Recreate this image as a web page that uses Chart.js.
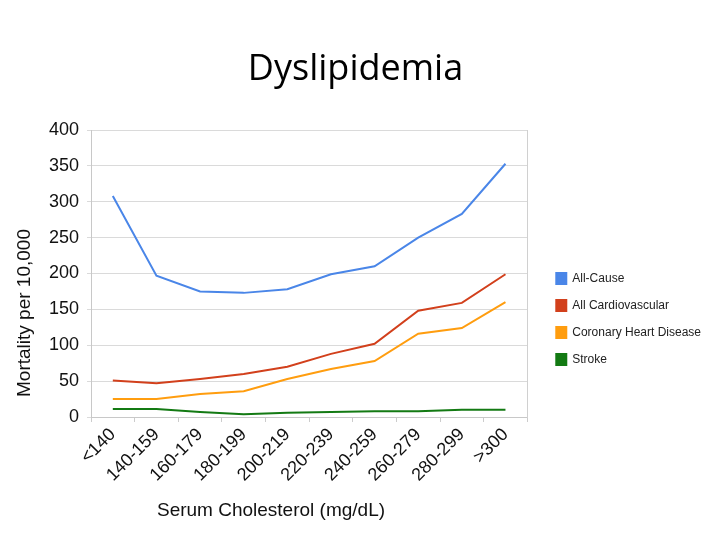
<!DOCTYPE html>
<html>
<head>
<meta charset="utf-8">
<script src="https://cdn.jsdelivr.net/npm/chart.js@4/dist/chart.umd.min.js"></script>
<style>
  html, body { margin: 0; padding: 0; background: #ffffff; }
  #wrap { width: 720px; height: 540px; position: relative; }
</style>
</head>
<body>
<div id="wrap"><canvas id="c" width="720" height="540"></canvas></div>
<script>
// ---- data ----
const chartTitle = 'Dyslipidemia';
const xAxisTitle = 'Serum Cholesterol (mg/dL)';
const yAxisTitle = 'Mortality per 10,000';
const categories = ['<140', '140-159', '160-179', '180-199', '200-219', '220-239', '240-259', '260-279', '280-299', '>300'];
const seriesNames = ['All-Cause', 'All Cardiovascular', 'Coronary Heart Disease', 'Stroke'];
const allCause = [308, 197, 175, 173, 178, 199, 210, 250, 283, 353];
const allCardiovascular = [51, 47, 53, 60, 70, 88, 102, 148, 159, 199];
const coronaryHeartDisease = [25, 25, 32, 36, 53, 67, 78, 116, 124, 160];
const stroke = [11, 11, 7, 4, 6, 7, 8, 8, 10, 10];
const yMin = 0, yMax = 400, yStep = 50;

const colors = ['#4a86e8', '#d2401c', '#ff9d0f', '#137a13'];
const seriesValues = [allCause, allCardiovascular, coronaryHeartDisease, stroke];

const axisTitlesPlugin = {
  id: 'axisTitles',
  afterDraw(chart, args, opts) {
    const ctx = chart.ctx;
    ctx.save();
    ctx.fillStyle = opts.color;
    ctx.font = opts.font;
    ctx.textAlign = 'center';
    ctx.textBaseline = 'middle';
    ctx.fillText(opts.xText, opts.xPos.x, opts.xPos.y);
    ctx.translate(opts.yPos.x, opts.yPos.y);
    ctx.rotate(-Math.PI / 2);
    ctx.fillText(opts.yText, 0, 0);
    ctx.restore();
  }
};

const datasets = seriesNames.map((name, i) => ({
  label: name,
  data: seriesValues[i],
  borderColor: colors[i],
  backgroundColor: colors[i],
  borderWidth: 2,
  pointRadius: 0,
  pointHoverRadius: 0,
  tension: 0,
  fill: false
}));

new Chart(document.getElementById('c'), {
  type: 'line',
  data: { labels: categories, datasets: datasets },
  plugins: [axisTitlesPlugin],
  options: {
    responsive: false,
    animation: false,
    devicePixelRatio: 1,
    layout: { padding: { left: 0, right: 9, top: 0, bottom: 0 } },
    plugins: {
      title: {
        display: true,
        text: chartTitle,
        color: '#000000',
        font: { family: '"Open Sans", "Noto Sans", sans-serif', size: 36, weight: 'normal' },
        padding: { top: 48, bottom: 38.8 }
      },
      legend: {
        display: true,
        position: 'right',
        maxWidth: 250,
        title: { display: true, text: ' ', font: { size: 12 }, padding: { top: 0, bottom: 83.6 } },
        labels: {
          boxWidth: 10,
          boxHeight: 11,
          padding: 15,
          color: '#222222',
          font: { family: '"Liberation Sans", Arial, sans-serif', size: 12 }
        }
      },
      tooltip: { enabled: false },
      axisTitles: {
        xText: xAxisTitle,
        yText: yAxisTitle,
        color: '#111111',
        font: '19px "Liberation Sans", Arial, sans-serif',
        xPos: { x: 271, y: 511 },
        yPos: { x: 25, y: 313 }
      }
    },
    scales: {
      x: {
        type: 'category',
        offset: true,
        afterFit(scale) { scale.height = 123; },
        grid: { display: true, offset: true, drawOnChartArea: false, drawTicks: true, tickLength: 5, color: '#cccccc' },
        border: { display: true, color: '#c8c8c8' },
        ticks: {
          autoSkip: false,
          maxRotation: 45,
          minRotation: 45,
          padding: 2,
          color: '#111111',
          font: { family: '"Liberation Sans", Arial, sans-serif', size: 18 }
        }
      },
      y: {
        type: 'linear',
        position: 'left',
        min: yMin,
        max: yMax,
        afterFit(scale) { scale.width = 91; },
        grid: { color: '#dadada', drawTicks: true, tickLength: 4 },
        border: { display: true, color: '#c8c8c8' },
        ticks: {
          stepSize: yStep,
          padding: 8,
          color: '#111111',
          font: { family: '"Liberation Sans", Arial, sans-serif', size: 18 }
        }
      },
      yR: {
        type: 'linear',
        position: 'right',
        display: true,
        afterFit(scale) { scale.width = 14; },
        grid: { display: false },
        border: { display: true, color: '#d0d0d0' },
        ticks: { display: false }
      }
    }
  }
});
</script>
</body>
</html>
